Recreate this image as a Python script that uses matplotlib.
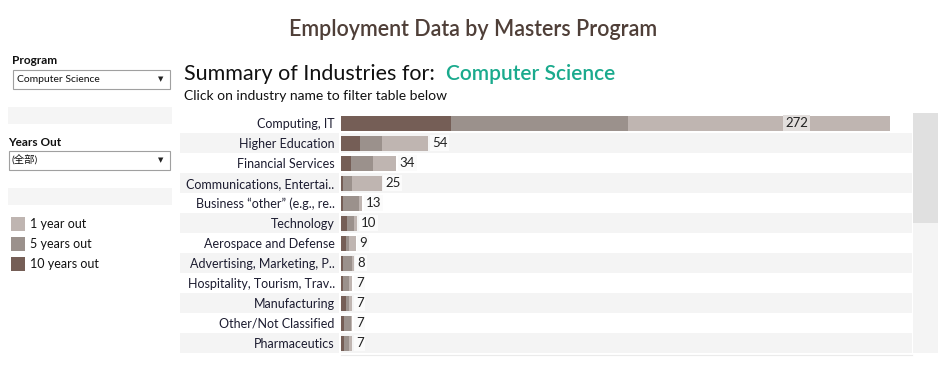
import matplotlib
matplotlib.use("Agg")
import matplotlib.pyplot as plt
from matplotlib.patches import Rectangle

# data
industries = ["Computing, IT", "Higher Education", "Financial Services",
              "Communications, Entertai..", "Business \u201cother\u201d (e.g., re..",
              "Technology", "Aerospace and Defense", "Advertising, Marketing, P..",
              "Hospitality, Tourism, Trav..", "Manufacturing", "Other/Not Classified",
              "Pharmaceutics"]
ten_years = [68, 12, 6, 1, 1, 4, 3, 1, 1, 3, 2, 2]
five_years = [109, 13, 14, 6, 10, 4, 2, 6, 4, 2, 4, 3]
one_year = [162, 29, 14, 18, 2, 2, 4, 1, 2, 2, 1, 2]
totals = [272, 54, 34, 25, 13, 10, 9, 8, 7, 7, 7, 7]

legend_labels = ["1 year out", "5 years out", "10 years out"]
colors = {"1 year out": "#bfb5b1", "5 years out": "#9b918c", "10 years out": "#755e56"}

W, H = 939, 378
FONT = ["Lato", "Noto Sans CJK SC", "DejaVu Sans"]
plt.rcParams["font.family"] = FONT


def box(x0, y0, x1, y1):
    # pixel box -> figure fraction rect
    return [x0 / W, 1 - y1 / H, (x1 - x0) / W, (y1 - y0) / H]


fig = plt.figure(figsize=(W / 100, H / 100), dpi=100)

canvas = fig.add_axes([0, 0, 1, 1], zorder=0)
canvas.set_xlim(0, W)
canvas.set_ylim(H, 0)
canvas.axis("off")

canvas.text(473, 29, "Employment Data by Masters Program", ha="center", va="center",
            fontsize=15.5, color="#4f3f38", fontweight="semibold")
canvas.text(184, 74, "Summary of Industries for:", ha="left", va="center",
            fontsize=15.5, color="#111111")
canvas.text(446, 74, "Computer Science", ha="left", va="center", fontsize=15,
            color="#1aaa8d", fontweight="semibold")
canvas.text(184, 96, "Click on industry name to filter table below", ha="left",
            va="center", fontsize=10, color="#111111")

# left filter panel
canvas.text(12, 61, "Program", ha="left", va="center", fontsize=8.5, fontweight="bold",
            color="#111111")
canvas.add_patch(Rectangle((13, 70), 157, 19, fc="white", ec="#a0a0a0", lw=0.8))
canvas.text(17, 79.5, "Computer Science", ha="left", va="center", fontsize=7.5,
            color="#111111")
canvas.text(161, 79.5, "\u25bc", ha="center", va="center", fontsize=5, color="#222222",
            family="DejaVu Sans")
canvas.add_patch(Rectangle((8, 107), 164, 17, fc="#f5f5f5", ec="none"))

canvas.text(8, 142, "Years Out", ha="left", va="center", fontsize=8.5, fontweight="bold",
            color="#111111")
canvas.add_patch(Rectangle((9, 151), 161, 19, fc="white", ec="#a0a0a0", lw=0.8))
canvas.text(12, 160.5, "(全部)", ha="left", va="center", fontsize=7.5, color="#111111")
canvas.text(161, 160.5, "\u25bc", ha="center", va="center", fontsize=5, color="#222222",
            family="DejaVu Sans")
canvas.add_patch(Rectangle((8, 188), 164, 17, fc="#f5f5f5", ec="none"))

for k, lab in enumerate(legend_labels):
    y = 224 + 20 * k
    canvas.add_patch(Rectangle((11, y - 7), 14, 14, fc=colors[lab], ec="none"))
    canvas.text(30, y, lab, ha="left", va="center", fontsize=9, color="#111111")

# scrollbar
canvas.add_patch(Rectangle((913, 113), 25, 240, fc="#f4f4f4", ec="none"))
canvas.add_patch(Rectangle((913, 113), 25, 110, fc="#e0e0e0", ec="none"))
canvas.plot([341, 912], [355, 355], color="#ebebeb", lw=0.8)

n = len(industries)

# row banding
band = fig.add_axes(box(180, 113, 912, 353), zorder=1)
band.set_xlim(0, 1)
band.set_ylim(n - 0.5, -0.5)
band.axis("off")
for i in range(1, n, 2):
    band.axhspan(i - 0.5, i + 0.5, color="#f4f4f4", lw=0)
band.axvline((340 - 180) / (912 - 180), color="white", lw=1.5)

# bars
ax = fig.add_axes(box(341, 113, 912, 353), zorder=2)
ax.patch.set_alpha(0)
rows = list(range(n))
left = [0] * n
for lab, vals in [("10 years out", ten_years), ("5 years out", five_years),
                  ("1 year out", one_year)]:
    ax.barh(rows, vals, left=left, height=0.75, color=colors[lab], lw=0)
    left = [a + b for a, b in zip(left, vals)]

for i, tot in enumerate(totals):
    fc = "#e2dedc" if i == 0 else "#fbfbfb"
    ax.annotate(str(tot), (tot, i), xytext=(2.5, 0), textcoords="offset points",
                ha="left", va="center", fontsize=9.5, color="#222222",
                bbox=dict(boxstyle="square,pad=0.15", fc=fc, ec="none"))

ax.set_xlim(0, 571 / 1.62)
ax.set_ylim(n - 0.5, -0.5)
ax.set_yticks(rows)
ax.set_yticklabels(industries, fontsize=9, color="#1c1c30")
ax.tick_params(axis="y", length=0, pad=4.5)
ax.set_xticks([])
for s in ax.spines.values():
    s.set_visible(False)

fig.savefig("out.png", dpi=100)
